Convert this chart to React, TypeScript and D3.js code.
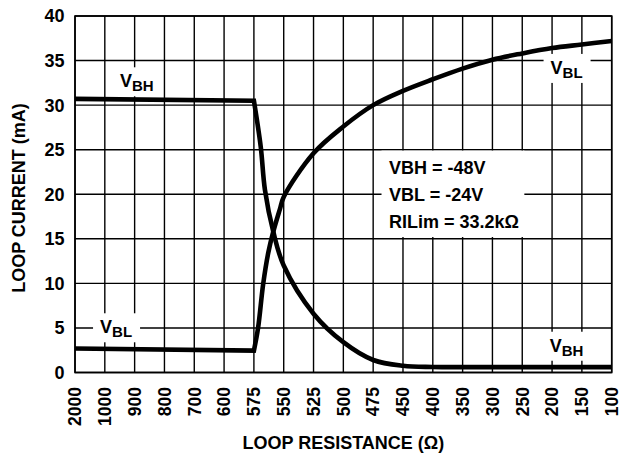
import * as d3 from 'd3';

const categories = ['2000', '1000', '900', '800', '700', '600', '575', '550', '525', '500', '475', '450', '400', '350', '300', '250', '200', '150', '100'];
const yTicks = [0, 5, 10, 15, 20, 25, 30, 35, 40];

// positions are in category units (0 = "2000", 18 = "100"), values in mA
// flat part (up to 575) is drawn straight, the rest smooth
const vbhPos = [0, 6, 6.23, 6.37, 6.65, 7, 8, 9, 10, 11, 12, 13, 14, 15, 16, 17, 18];
const vbhVal = [30.7, 30.5, 25.3, 20.5, 15.8, 12.0, 6.6, 3.4, 1.4, 0.75, 0.62, 0.6, 0.6, 0.6, 0.6, 0.6, 0.6];
const vblPos = [0, 6, 6.14, 6.31, 6.48, 6.65, 6.87, 7, 8, 9, 10, 11, 12, 13, 14, 15, 16, 17, 18];
const vblVal = [2.7, 2.45, 5.0, 9.9, 13.4, 15.8, 18.3, 19.7, 24.6, 27.6, 30.0, 31.6, 32.9, 34.1, 35.1, 35.8, 36.4, 36.8, 37.2];

const curveLabels = [
  { sub: 'BH', pos: 1.51, val: 32.0 },
  { sub: 'BL', pos: 15.95, val: 33.5 },
  { sub: 'BH', pos: 15.92, val: 2.33 },
  { sub: 'BL', pos: 0.84, val: 4.4 },
];
const notes = ['VBH = -48V', 'VBL = -24V', 'RILim = 33.2kΩ'];

const FONT = "'Liberation Sans', Arial, Helvetica, sans-serif";
const W = 620;
const H = 453;
const M = { top: 16, right: 8.3, bottom: 80.5, left: 75 };

export default function App() {
  const x = d3.scaleLinear().domain([0, categories.length - 1]).range([M.left, W - M.right]);
  const y = d3.scaleLinear().domain([0, 40]).range([H - M.bottom, M.top]);
  const straight = d3.line<[number, number]>().x(d => x(d[0])).y(d => y(d[1]));
  const smooth = d3.line<[number, number]>()
    .x(d => x(d[0]))
    .y(d => y(d[1]))
    .curve(d3.curveCatmullRom.alpha(0.5));

  // straight segment to the 575 corner, then continue the same path smoothly
  const seriesPath = (pos: number[], val: number[]) => {
    const pts = pos.map((p, i) => [p, val[i]] as [number, number]);
    const k = pts.findIndex(d => d[0] >= 6);
    const a = straight(pts.slice(0, k + 1)) ?? '';
    const b = (smooth(pts.slice(k)) ?? '').replace(/^M[^CLc]*/, '');
    return a + b;
  };

  const innerBottom = H - M.bottom;
  const innerRight = W - M.right;

  // note box (in data units)
  const boxX0 = x(10.28), boxX1 = x(15.07);
  const boxY0 = y(24.9), boxY1 = y(15.2);

  return (
    <svg width={W} height={H} style={{ position: 'absolute', left: 0, top: 0, background: '#fff' }}
      fontFamily={FONT} fontWeight="bold">
      {/* grid */}
      {categories.map((c, i) => (
        <line key={'v' + c} x1={x(i)} x2={x(i)} y1={M.top} y2={innerBottom} stroke="#000" strokeWidth={1.4} />
      ))}
      {yTicks.map(t => (
        <line key={'h' + t} x1={M.left} x2={innerRight} y1={y(t)} y2={y(t)} stroke="#000" strokeWidth={1.4} />
      ))}
      <rect x={M.left} y={M.top} width={innerRight - M.left} height={innerBottom - M.top}
        fill="none" stroke="#000" strokeWidth={1.6} />

      {/* white label backgrounds */}
      {curveLabels.map((l, i) => (
        <rect key={'lb' + i} x={x(l.pos) - 7} y={y(l.val) - 20} width={47} height={29} fill="#fff" />
      ))}
      <rect x={boxX0} y={boxY0} width={boxX1 - boxX0} height={boxY1 - boxY0} fill="#fff" />

      {/* curves */}
      <path d={seriesPath(vbhPos, vbhVal)} fill="none" stroke="#000" strokeWidth={4.6} strokeLinejoin="miter" />
      <path d={seriesPath(vblPos, vblVal)} fill="none" stroke="#000" strokeWidth={4.6} strokeLinejoin="miter" />

      {/* curve labels */}
      {curveLabels.map((l, i) => (
        <text key={'lt' + i} x={x(l.pos)} y={y(l.val)} fontSize={18}>
          V<tspan fontSize={15} dy={4}>{l.sub}</tspan>
        </text>
      ))}

      {/* notes */}
      {notes.map((n, i) => (
        <text key={n} x={boxX0 + 7.5} y={boxY0 + 23 + i * 27} fontSize={18}>{n}</text>
      ))}

      {/* y ticks */}
      {yTicks.map(t => (
        <text key={'yt' + t} x={M.left - 10.5} y={y(t)} dy="0.36em" textAnchor="end" fontSize={18}>{t}</text>
      ))}

      {/* x ticks */}
      {categories.map((c, i) => (
        <text key={'xt' + c} transform={`translate(${x(i)},${innerBottom + 14.5}) rotate(-90)`}
          dy="0.36em" textAnchor="end" fontSize={17.5}>{c}</text>
      ))}

      {/* axis titles */}
      <text x={(M.left + innerRight) / 2} y={449} textAnchor="middle" fontSize={18}>LOOP RESISTANCE (Ω)</text>
      <text transform={`translate(25,198) rotate(-90)`} textAnchor="middle" fontSize={18}>LOOP CURRENT (mA)</text>
    </svg>
  );
}
